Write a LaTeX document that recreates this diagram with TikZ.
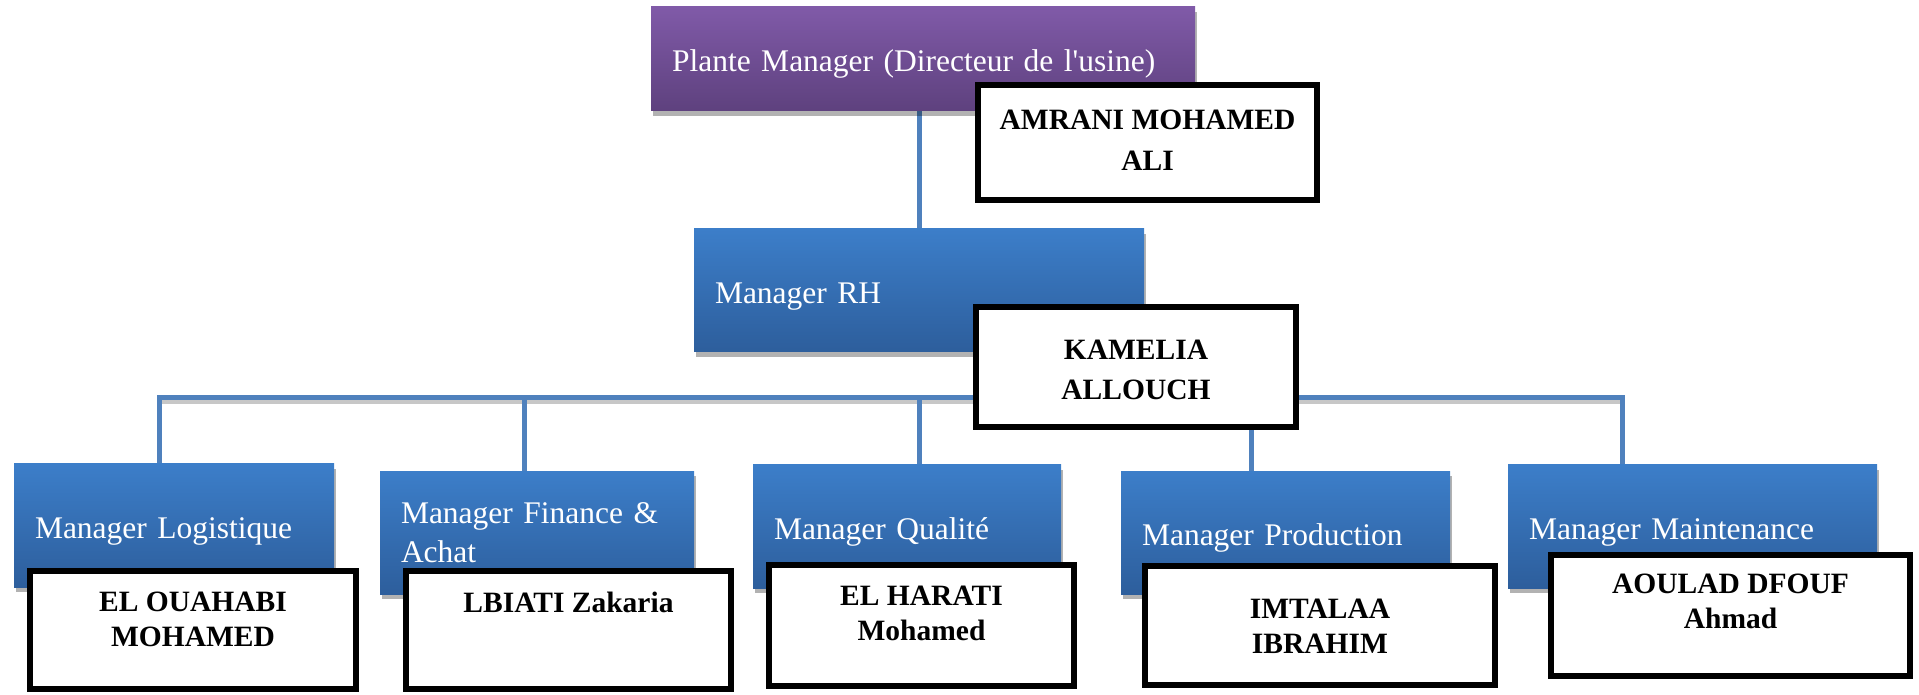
\documentclass[tikz,border=0pt]{standalone}
\usepackage{fontspec}
\setmainfont{Liberation Serif}
\usetikzlibrary{shadows}

\definecolor{purptop}{RGB}{128,90,168}
\definecolor{purpbot}{RGB}{94,65,126}
\definecolor{bluetop}{RGB}{60,126,201}
\definecolor{bluebot}{RGB}{45,94,156}
\definecolor{linkblue}{RGB}{79,129,189}

\pgfdeclarelayer{connectors}
\pgfsetlayers{connectors,main}

\tikzset{
  rolebox/.style={rectangle, inner xsep=21pt, inner ysep=0pt, align=left,
    text=white, font=\fontsize{31.5}{38.5}\selectfont,
    drop shadow={shadow xshift=2pt, shadow yshift=-5pt, opacity=0.3, fill=black}},
  oneline/.style={text height=25.5pt, text depth=0pt},
  bluebox/.style={rolebox, top color=bluetop, bottom color=bluebot},
  purplebox/.style={rolebox, top color=purptop, bottom color=purpbot},
  namebox/.style={rectangle, draw=black, line width=6pt, fill=white, inner sep=0pt},
  nametext/.style={inner sep=0pt, align=center, anchor=north,
    font=\bfseries\fontsize{29.5}{35}\selectfont},
  link/.style={draw=linkblue, line width=5pt},
  linkshade/.style={draw=black, opacity=0.22, line width=5pt},
}

\begin{document}
\begin{tikzpicture}[x=1pt, y=1pt]
\useasboundingbox (0,0) rectangle (1919,694);

% director and HR
\node[purplebox, oneline, text width=502pt, minimum height=104pt] (plante) at (923,635)
  {Plante Manager (Directeur de l\textquotesingle usine)};
\node[bluebox, oneline, text width=408pt, minimum height=123pt] (rh) at (919,403.5)
  {Manager RH};

% department managers
\node[bluebox, oneline, text width=278pt, minimum height=123pt] (logi) at (174,168.5)
  {Manager Logistique};
\node[bluebox, text width=272pt, minimum height=123pt] (fin) at (537,161.5)
  {Manager Finance \& Achat};
\node[bluebox, oneline, text width=266pt, minimum height=123pt] (qual) at (907,167.5)
  {Manager Qualité};
\node[bluebox, oneline, text width=287pt, minimum height=123pt] (prod) at (1285.5,161.5)
  {Manager Production};
\node[bluebox, oneline, text width=327pt, minimum height=123pt] (maint) at (1692.5,167.5)
  {Manager Maintenance};

% name plates
\node[namebox, minimum width=339pt, minimum height=115pt] (nplante) at (1147.5,551.5) {};
\node[nametext] (tplante) at (1147.5,584) {AMRANI MOHAMED\\[6pt]ALI};
\node[namebox, minimum width=320pt, minimum height=120pt] (nrh) at (1136,327) {};
\node[nametext] (trh) at (1136,354) {KAMELIA\\[5pt]ALLOUCH};
\node[namebox, minimum width=326pt, minimum height=118pt] (nlogi) at (193,64) {};
\node[nametext] (tlogi) at (193,102) {EL OUAHABI\\MOHAMED};
\node[namebox, minimum width=325pt, minimum height=118pt] (nfin) at (568.5,64) {};
\node[nametext] (tfin) at (568.5,102) {LBIATI Zakaria};
\node[namebox, minimum width=305pt, minimum height=121pt] (nqual) at (921.5,68.5) {};
\node[nametext] (tqual) at (921.5,108) {EL HARATI\\Mohamed};
\node[namebox, minimum width=350pt, minimum height=119pt] (nprod) at (1320,68.5) {};
\node[nametext] (tprod) at (1320,95) {IMTALAA\\IBRAHIM};
\node[namebox, minimum width=359pt, minimum height=121pt] (nmaint) at (1730.5,78.5) {};
\node[nametext] (tmaint) at (1730.5,120) {AOULAD DFOUF\\Ahmad};

% connector lines
\coordinate (d1) at (159,296);
\coordinate (d2) at (524,296);
\coordinate (d3) at (919,296);
\coordinate (d4) at (1251,296);
\coordinate (d5) at (1622,296);
\begin{pgfonlayer}{connectors}
  \draw[linkshade, transform canvas={yshift=-4pt}] (d1) -- (d5);
  \draw[link] (plante.south -| rh.north) -- (rh.north);
  \draw[link, line cap=rect] (d1) -- (d5);
  \draw[link] (d1) -- (d1 |- logi.north);
  \draw[link] (d2) -- (d2 |- fin.north);
  \draw[link] (d3) -- (d3 |- qual.north);
  \draw[link] (d4) -- (d4 |- prod.north);
  \draw[link] (d5) -- (d5 |- maint.north);
\end{pgfonlayer}
\end{tikzpicture}
\end{document}
